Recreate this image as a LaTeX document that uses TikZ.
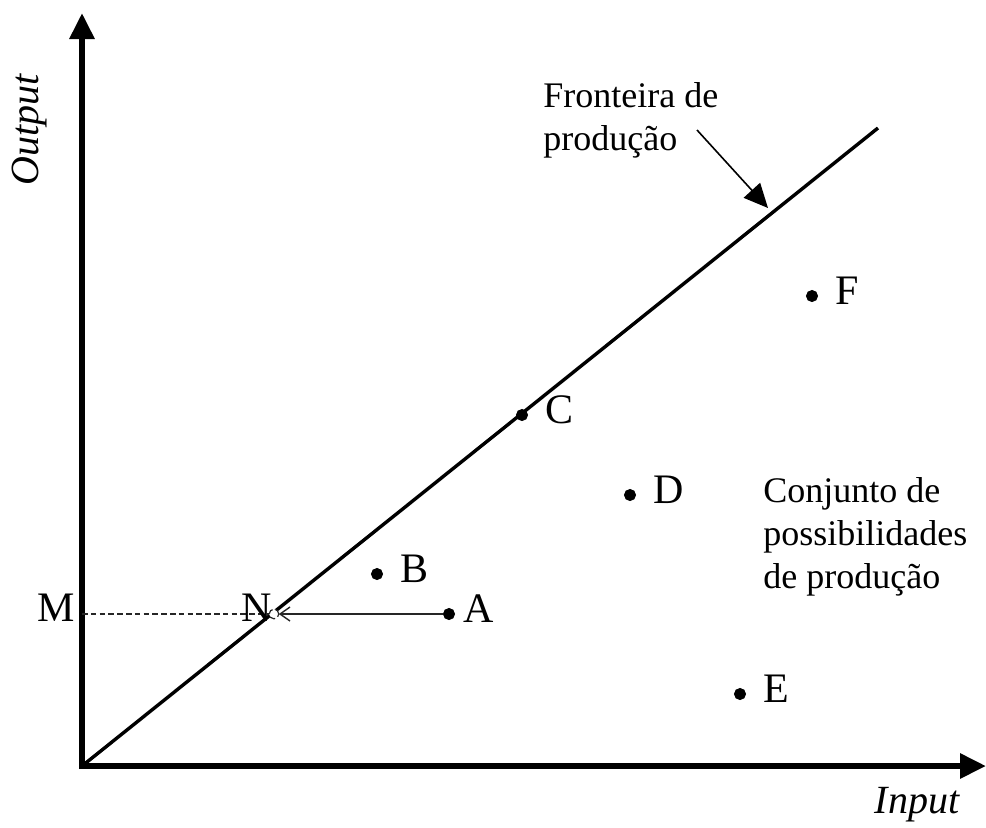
\documentclass[tikz,border=0pt]{standalone}
\usepackage{fontspec}
\setmainfont{Liberation Serif}
\usetikzlibrary{arrows.meta,positioning,calc}
\tikzset{
    dot/.style = {draw,fill,circle,inner sep=0pt,outer sep=0pt,minimum size=5.6pt},
    hollow/.style = {draw,fill=white,circle,inner sep=0pt,outer sep=0pt,minimum size=4.8pt,line width=0.6pt},
    spot/.style = {inner sep=0pt,outer sep=0pt,minimum size=0pt},
    axis/.style = {line width=3pt,-{Triangle[length=13pt,width=12pt]}},
    line/.style = {-,line width=1.7pt},
    fine/.style = {line width=0.7pt,black!85},
    lbl/.style = {font=\fontsize{21}{25}\selectfont,inner sep=0pt},
    txt/.style = {font=\fontsize{18}{21.5}\selectfont,align=left,inner sep=0pt},
    ax/.style = {font=\fontsize{20}{24}\selectfont\itshape,inner sep=0pt},
}
\begin{document}
\begin{tikzpicture}[x=0.5pt,y=-0.5pt]
                \useasboundingbox (0,0) rectangle (986,827);
                \node[spot] (o) at (82,766) {};
                \node[spot] (ytop) at (82,13) {};
                \node[spot] (xend) at (986,766) {};
                \node[spot] (fend) at (878,128) {};
                \node[spot] (m) at (82,614) {};
                \node[dot] (a) at (449,614) {};
                \node[dot] (b) at (377,574) {};
                \node[dot] (c) at (522,415) {};
                \node[dot] (d) at (630,495) {};
                \node[dot] (e) at (740,694) {};
                \node[dot] (f) at (812,296) {};
                \node[spot] (tip) at (768,208) {};
                \node[txt,anchor=west] (front) at (543,120) {Fronteira de\\produção};
                \node[txt,anchor=west] (conj) at (763,537) {Conjunto de\\possibilidades\\de produção};
                \draw[line] (o) -- (fend);
                \draw[axis] ([yshift=-1.5pt]o.center) -- (ytop);
                \draw[axis] ([xshift=-1.5pt]o.center) -- (xend);
                \draw[fine,dash pattern=on 2.8pt off 1.6pt] (m) -- (274,614) node[hollow] (n) {};
                \draw[fine,-{Straight Barb[length=5pt,width=7pt]}] (a) -- (n);
                \draw[line width=0.8pt,-{Triangle[length=12pt,width=11pt]}] (697,130) -- (tip);
                \node[lbl,right=4pt of a,yshift=2.5pt] {A};
                \node[lbl,right=8.5pt of b,yshift=2.5pt] {B};
                \node[lbl,right=8.5pt of c,yshift=2.5pt] {C};
                \node[lbl,right=8.5pt of d,yshift=2.5pt] {D};
                \node[lbl,right=8.5pt of e,yshift=2.5pt] {E};
                \node[lbl,right=8.5pt of f,yshift=2.5pt] {F};
                \node[lbl] (mlbl) at (56,608) {M};
                \node[lbl] (nlbl) at (257,608) {N};
                \node[ax,rotate=90] (out) at (30,130) {Output};
                \node[ax] (in) at (917,805) {Input};
            \end{tikzpicture}
\end{document}
